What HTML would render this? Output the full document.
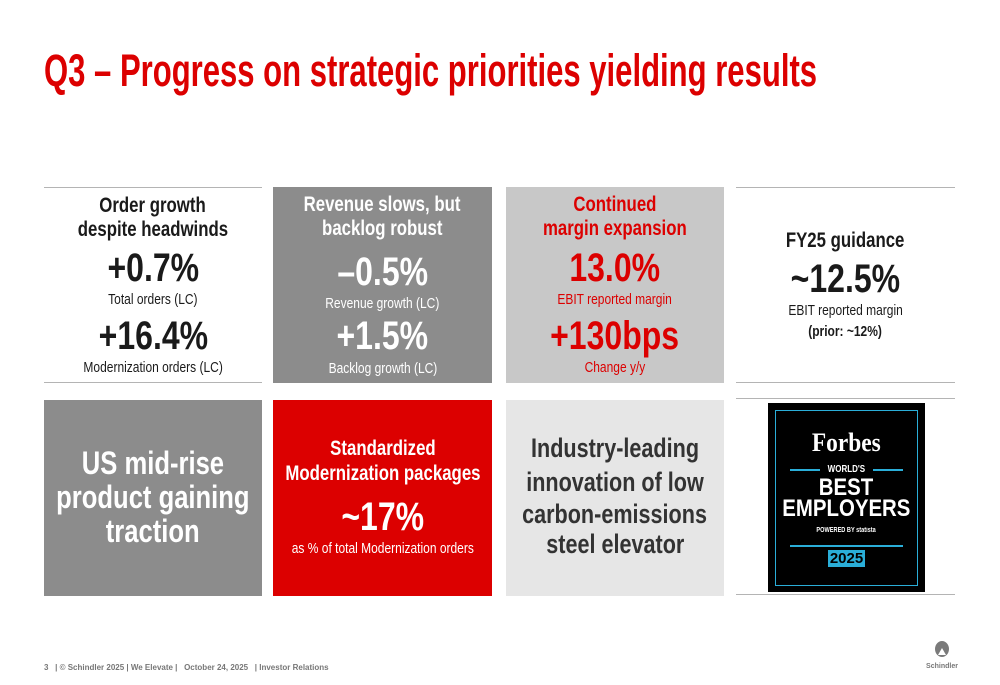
<!DOCTYPE html>
<html><head><meta charset="utf-8">
<style>
*{margin:0;padding:0;box-sizing:border-box}
body{width:1000px;height:685px;background:#fff;position:relative;overflow:hidden;font-family:"Liberation Sans Narrow","Liberation Sans",sans-serif}
.abs{position:absolute}
.ln{position:absolute;text-align:center;white-space:nowrap;height:40px;line-height:40px}
.ln>span{display:inline-block;transform:scaleX(0.8);transform-origin:50% 50%;margin:0 -150px}
.b{font-weight:bold}
.hl{position:absolute;height:1px;background:#b4b4b4}
</style></head><body>
<div class="abs b" style="left:44px;top:46px;font-size:45px;color:#dc0000;line-height:50px;white-space:nowrap;transform:scaleX(0.69);transform-origin:0 50%">Q3 – Progress on strategic priorities yielding results</div>

<div class="abs" style="left:44px;top:187px;width:218px;height:196px">
 <div class="hl" style="left:0;top:0;width:218px"></div><div class="hl" style="left:0;top:195px;width:218px"></div>
</div>
<div class="abs" style="left:273px;top:187px;width:219px;height:196px;background:#8c8c8c"></div>
<div class="abs" style="left:506px;top:187px;width:218px;height:196px;background:#c8c8c8"></div>
<div class="abs" style="left:736px;top:187px;width:219px;height:196px">
 <div class="hl" style="left:0;top:0;width:219px"></div><div class="hl" style="left:0;top:195px;width:219px"></div>
</div>

<div class="abs" style="left:44px;top:400px;width:218px;height:196px;background:#8c8c8c"></div>
<div class="abs" style="left:273px;top:400px;width:219px;height:196px;background:#dc0000"></div>
<div class="abs" style="left:506px;top:400px;width:218px;height:196px;background:#e6e6e6"></div>
<div class="abs" style="left:736px;top:398px;width:219px;height:197px">
 <div class="hl" style="left:0;top:0;width:219px"></div><div class="hl" style="left:0;top:196px;width:219px"></div>
</div>

<div>
<div class="ln b" style="left:44px;width:218px;top:186px;font-size:21px;color:#1a1a1a"><span>Order growth</span></div>
<div class="ln b" style="left:44px;width:218px;top:210px;font-size:21px;color:#1a1a1a"><span>despite headwinds</span></div>
</div>
<div class="ln b" style="left:44px;width:218px;top:248px;font-size:40px;color:#1a1a1a"><span>+0.7%</span></div>
<div class="ln" style="left:44px;width:218px;top:280px;font-size:15px;color:#1a1a1a"><span>Total orders (LC)</span></div>
<div class="ln b" style="left:44px;width:218px;top:316px;font-size:40px;color:#1a1a1a"><span>+16.4%</span></div>
<div class="ln" style="left:44px;width:218px;top:348px;font-size:15px;color:#1a1a1a"><span>Modernization orders (LC)</span></div>

<div>
<div class="ln b" style="left:273px;width:219px;top:185px;font-size:21px;color:#fff"><span>Revenue slows, but</span></div>
<div class="ln b" style="left:273px;width:219px;top:209px;font-size:21px;color:#fff"><span>backlog robust</span></div>
</div>
<div class="ln b" style="left:273px;width:219px;top:252px;font-size:40px;color:#fff"><span>–0.5%</span></div>
<div class="ln" style="left:273px;width:219px;top:284px;font-size:15px;color:#fff"><span>Revenue growth (LC)</span></div>
<div class="ln b" style="left:273px;width:219px;top:316px;font-size:40px;color:#fff"><span>+1.5%</span></div>
<div class="ln" style="left:273px;width:219px;top:349px;font-size:15px;color:#fff"><span>Backlog growth (LC)</span></div>

<div>
<div class="ln b" style="left:506px;width:218px;top:185px;font-size:21px;color:#dc0000"><span>Continued</span></div>
<div class="ln b" style="left:506px;width:218px;top:209px;font-size:21px;color:#dc0000"><span>margin expansion</span></div>
</div>
<div class="ln b" style="left:506px;width:218px;top:248px;font-size:40px;color:#dc0000"><span>13.0%</span></div>
<div class="ln" style="left:506px;width:218px;top:280px;font-size:15px;color:#dc0000"><span>EBIT reported margin</span></div>
<div class="ln b" style="left:506px;width:218px;top:316px;font-size:40px;color:#dc0000"><span>+130bps</span></div>
<div class="ln" style="left:506px;width:218px;top:348px;font-size:15px;color:#dc0000"><span>Change y/y</span></div>

<div class="ln b" style="left:736px;width:219px;top:221px;font-size:21px;color:#1a1a1a"><span>FY25 guidance</span></div>
<div class="ln b" style="left:736px;width:219px;top:259px;font-size:40px;color:#1a1a1a"><span>~12.5%</span></div>
<div class="ln" style="left:736px;width:219px;top:291px;font-size:15px;color:#1a1a1a"><span>EBIT reported margin</span></div>
<div class="ln b" style="left:736px;width:219px;top:312px;font-size:15px;color:#1a1a1a"><span>(prior: ~12%)</span></div>

<div>
<div class="ln b" style="left:44px;width:218px;top:443px;font-size:32px;color:#fff"><span>US mid-rise</span></div>
<div class="ln b" style="left:44px;width:218px;top:477px;font-size:32px;color:#fff"><span>product gaining</span></div>
<div class="ln b" style="left:44px;width:218px;top:511px;font-size:32px;color:#fff"><span>traction</span></div>
</div>
<div>
<div class="ln b" style="left:273px;width:219px;top:429px;font-size:21px;color:#fff"><span>Standardized</span></div>
<div class="ln b" style="left:273px;width:219px;top:454px;font-size:21px;color:#fff"><span>Modernization packages</span></div>
</div>
<div class="ln b" style="left:273px;width:219px;top:497px;font-size:40px;color:#fff"><span>~17%</span></div>
<div class="ln" style="left:273px;width:219px;top:529px;font-size:15px;color:#fff"><span>as % of total Modernization orders</span></div>
<div>
<div class="ln b" style="left:506px;width:218px;top:428px;font-size:27px;color:#333"><span>Industry-leading</span></div>
<div class="ln b" style="left:506px;width:218px;top:462px;font-size:27px;color:#333"><span>innovation of low</span></div>
<div class="ln b" style="left:506px;width:218px;top:494px;font-size:27px;color:#333"><span>carbon-emissions</span></div>
<div class="ln b" style="left:506px;width:218px;top:524px;font-size:27px;color:#333"><span>steel elevator</span></div>
</div>
<div class="abs" style="left:768px;top:403px;width:157px;height:189px;background:#000">
 <div class="abs" style="left:7px;top:7px;width:143px;height:176px;border:1.5px solid #2aaed8"></div>
 <div class="ln" style="left:0;width:157px;top:20px;font-family:'Liberation Serif',serif;font-weight:bold;font-size:26px;color:#fff"><span style="transform:scaleX(0.9)">Forbes</span></div>
 <div class="abs" style="left:22px;top:66px;width:30px;height:2px;background:#2aaed8"></div>
 <div class="abs" style="left:105px;top:66px;width:30px;height:2px;background:#2aaed8"></div>
 <div class="ln b" style="left:0;width:157px;top:47px;font-size:10px;color:#fff"><span>WORLD'S</span></div>
 <div class="ln b" style="left:0;width:157px;top:73px;font-size:24px;color:#fff;line-height:24px;height:24px"><span style="transform:scaleX(0.85)">BEST</span></div>
 <div class="ln b" style="left:0;width:157px;top:94px;font-size:24px;color:#fff;line-height:24px;height:24px"><span style="transform:scaleX(0.85)">EMPLOYERS</span></div>
 <div class="ln b" style="left:0;width:157px;top:122px;font-size:7px;color:#fff;line-height:12px;height:12px"><span>POWERED BY statista</span></div>
 <div class="abs" style="left:22px;top:142px;width:113px;height:2px;background:#2aaed8"></div>
 <div class="abs b" style="left:60px;top:147px;width:37px;height:17px;background:#2aaed8;color:#000;font-size:15px;line-height:17px;text-align:center">2025</div>
</div>

<div class="abs b" style="left:44px;top:663px;font-size:8px;color:#777;white-space:nowrap">3 &nbsp;&nbsp;| © Schindler 2025 | We Elevate | &nbsp;&nbsp;October 24, 2025 &nbsp;&nbsp;| Investor Relations</div>
<div class="abs" style="left:928px;top:640px;width:28px;height:34px">
 <svg width="28" height="34" viewBox="0 0 28 34"><ellipse cx="14" cy="9" rx="7" ry="8" fill="#7a7a7a"/><path d="M10 15 L14 8 L18 15 Z" fill="#fff"/></svg>
 <div class="abs b" style="left:-4px;top:23px;width:36px;text-align:center;font-size:7px;color:#777">Schindler</div>
</div>
</body></html>
